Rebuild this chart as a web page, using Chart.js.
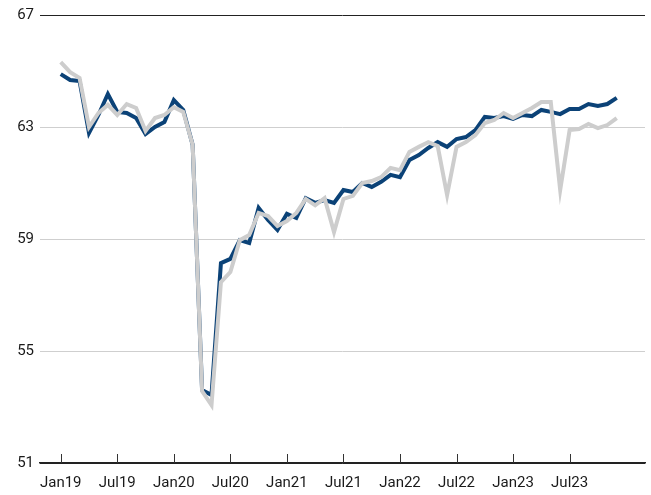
<!DOCTYPE html>
<html>
<head>
<meta charset="utf-8">
<script src="https://cdn.jsdelivr.net/npm/chart.js@4/dist/chart.umd.min.js"></script>
<style>
  html, body { margin: 0; padding: 0; background: #fff; }
  #wrap { width: 651px; height: 495px; }
</style>
</head>
<body>
<div id="wrap"><canvas id="chart" width="651" height="495"></canvas></div>
<script>
// monthly categories, Jan19 .. Dec23
const months = [
  'Jan19','Feb19','Mar19','Apr19','May19','Jun19','Jul19','Aug19','Sep19','Oct19','Nov19','Dec19',
  'Jan20','Feb20','Mar20','Apr20','May20','Jun20','Jul20','Aug20','Sep20','Oct20','Nov20','Dec20',
  'Jan21','Feb21','Mar21','Apr21','May21','Jun21','Jul21','Aug21','Sep21','Oct21','Nov21','Dec21',
  'Jan22','Feb22','Mar22','Apr22','May22','Jun22','Jul22','Aug22','Sep22','Oct22','Nov22','Dec22',
  'Jan23','Feb23','Mar23','Apr23','May23','Jun23','Jul23','Aug23','Sep23','Oct23','Nov23','Dec23'
];

// dark blue series
const seriesBlue = [
  64.89,64.68,64.64,62.79,63.43,64.18,63.54,63.5,63.32,62.75,63.0,63.18,
  63.96,63.61,62.36,53.61,53.43,58.14,58.29,58.96,58.86,60.11,59.68,59.32,
  59.9,59.75,60.46,60.29,60.39,60.29,60.75,60.68,61.0,60.86,61.04,61.29,
  61.21,61.82,62.0,62.25,62.46,62.29,62.57,62.64,62.89,63.36,63.32,63.39,
  63.29,63.43,63.39,63.61,63.54,63.46,63.64,63.64,63.82,63.75,63.82,64.04
];

// light grey series
const seriesGrey = [
  65.32,64.96,64.75,63.0,63.5,63.79,63.43,63.82,63.68,62.86,63.32,63.43,
  63.71,63.54,62.36,53.57,53.07,57.46,57.82,58.96,59.14,59.93,59.82,59.46,
  59.64,59.93,60.43,60.2,60.46,59.25,60.43,60.54,61.0,61.07,61.21,61.54,
  61.46,62.11,62.29,62.46,62.32,60.57,62.29,62.46,62.71,63.14,63.25,63.5,
  63.32,63.5,63.68,63.89,63.89,60.75,62.89,62.93,63.11,62.96,63.07,63.32
];

const tickLabels = ['Jan19','Jul19','Jan20','Jul20','Jan21','Jul21','Jan22','Jul22','Jan23','Jul23'];
const yTicks = [51, 55, 59, 63, 67];

const toPoints = arr => arr.map((v, i) => ({ x: i, y: v }));

// little tick marks standing up from the bottom axis
const axisTicks = {
  id: 'axisTicks',
  afterDatasetsDraw(chart) {
    const { ctx, chartArea, scales } = chart;
    ctx.save();
    ctx.strokeStyle = '#333';
    ctx.lineWidth = 1;
    tickLabels.forEach(lbl => {
      const x = Math.round(scales.x.getPixelForValue(months.indexOf(lbl))) + 0.5;
      ctx.beginPath();
      ctx.moveTo(x, chartArea.bottom);
      ctx.lineTo(x, chartArea.bottom - 9);
      ctx.stroke();
    });
    ctx.restore();
  }
};

Chart.defaults.font.family = 'Roboto';
Chart.defaults.font.size = 15;
Chart.defaults.color = '#1a1a1a';

new Chart(document.getElementById('chart'), {
  type: 'line',
  data: {
    datasets: [
      {
        label: 'Blue',
        data: toPoints(seriesBlue),
        borderColor: '#0b4277',
        borderWidth: 4,
        pointRadius: 0,
        tension: 0,
        order: 1
      },
      {
        label: 'Grey',
        data: toPoints(seriesGrey),
        borderColor: '#cdcdcd',
        borderWidth: 4,
        pointRadius: 0,
        tension: 0,
        order: 0
      }
    ]
  },
  options: {
    responsive: false,
    animation: false,
    layout: { padding: { top: 15, right: 6, bottom: 0, left: 0 } },
    plugins: {
      legend: { display: false },
      tooltip: { enabled: false }
    },
    scales: {
      x: {
        type: 'linear',
        min: -2.2,
        max: 62,
        afterBuildTicks: scale => {
          scale.ticks = tickLabels.map(l => ({ value: months.indexOf(l) }));
        },
        afterFit: scale => { scale.height = 32; },
        ticks: {
          autoSkip: false,
          maxRotation: 0,
          padding: 11,
          callback: v => months[v]
        },
        grid: { display: false, drawTicks: false },
        border: { display: true, color: '#222', width: 1.5 }
      },
      y: {
        min: 51,
        max: 67,
        afterBuildTicks: scale => {
          scale.ticks = yTicks.map(v => ({ value: v }));
        },
        afterFit: scale => { scale.width = 40; },
        ticks: { padding: 6 },
        grid: {
          drawTicks: false,
          color: c => (c.tick && (c.tick.value === 67 || c.tick.value === 51)) ? '#222' : '#cfcfcf',
          lineWidth: 1
        },
        border: { display: false }
      }
    }
  },
  plugins: [axisTicks]
});
</script>
</body>
</html>
